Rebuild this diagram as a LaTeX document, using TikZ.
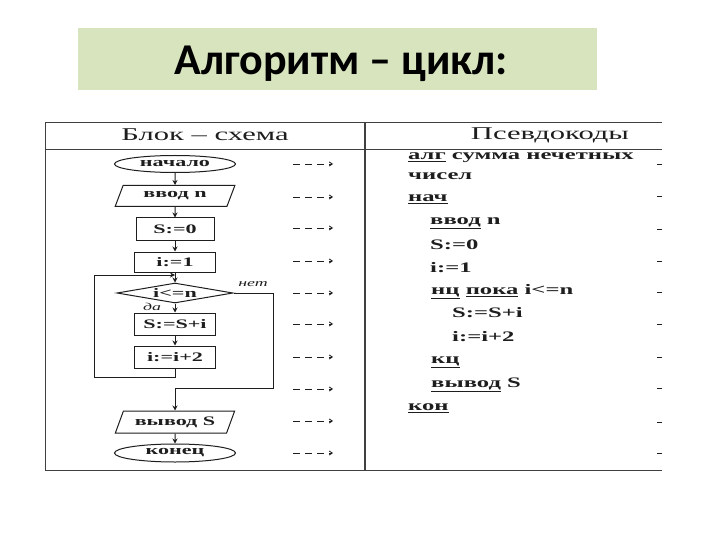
\documentclass[tikz,border=0pt]{standalone}
\usepackage{fontspec}
\usetikzlibrary{shapes.geometric,arrows.meta,calc}
\newfontfamily\titlefont{Carlito}
\newfontfamily\wser[FakeStretch=1.7]{Liberation Serif}
\definecolor{titlebg}{HTML}{D7E4BD}
\definecolor{ink}{HTML}{1E1E1E}
\begin{document}
\begin{tikzpicture}[x=1pt,y=-1pt,
  fc/.style={font=\wser\bfseries\fontsize{13}{15}\selectfont, text=ink, inner sep=0pt},
  box/.style={fc, draw=ink, line width=1pt, minimum width=81pt, minimum height=21pt},
  oval/.style={fc, ellipse, draw=ink, line width=1pt, minimum width=121pt, minimum height=17pt},
  io/.style={fc, trapezium, trapezium left angle=60, trapezium right angle=120, trapezium stretches=true, draw=ink, line width=1pt, minimum width=120pt, minimum height=21pt},
  cnd/.style={fc, diamond, draw=ink, line width=1pt, minimum width=116pt, minimum height=20pt, aspect=5.8},
  arr/.style={draw=ink, line width=1pt, -{Stealth[length=5pt,width=5pt]}},
  lin/.style={draw=ink, line width=1pt},
  darr/.style={draw=ink, line width=0.9pt, dash pattern=on 7pt off 5pt, -{Straight Barb[length=3pt,width=4pt]}},
  lbl/.style={font=\wser\itshape\fontsize{10.5}{12}\selectfont, text=ink, inner sep=0pt},
  hdr/.style={font=\wser\fontsize{18}{21}\selectfont, text=ink, inner sep=0pt},
  code/.style={font=\wser\bfseries\fontsize{14.5}{17}\selectfont, text=ink, inner sep=0pt, anchor=west},
  tbl/.style={draw=ink!85, line width=1pt}
]
\useasboundingbox (0,0) rectangle (720,540);
\fill[white] (0,0) rectangle (720,540);

% title
\node[fill=titlebg, minimum width=519pt, minimum height=62pt, inner sep=0pt] (tbox) at (337.5,59) {};
\node[anchor=base, inner sep=0pt, font=\titlefont\bfseries\fontsize{44}{50}\selectfont] (title) at (341,75) {Алгоритм – цикл:};

% table
\draw[tbl] (45,123) -- (662,123);
\draw[tbl] (45,150) -- (662,150);
\draw[tbl] (45,470) -- (662,470);
\draw[tbl] (45,123) -- (45,470);
\draw[tbl, line width=1.6pt] (365,123) -- (365,470);

\node[hdr] (h1) at (205,135) {Блок – схема};
\node[hdr] (h2) at (550,135) {Псевдокоды};

% flowchart
\node[oval] (start) at (175,164) {начало};
\node[io] (in) at (175,196) {ввод n};
\node[box, minimum width=78pt, minimum height=22pt] (s0) at (175,229) {S:=0};
\node[box, minimum height=20pt] (i1) at (175,262) {i:=1};
\node[cnd] (cond) at (175,293) {i<=n};
\node[box, minimum height=22pt] (s1) at (175,324) {S:=S+i};
\node[box, minimum height=22pt] (i2) at (175,357) {i:=i+2};
\node[io, minimum height=22pt] (out) at (175,422) {вывод S};
\node[oval, minimum height=18pt] (end) at (175,453) {конец};

\node[lbl] (no) at (253,284) {нет};
\node[lbl] (yes) at (152,307) {да};

\coordinate (j) at (175,275);
\coordinate (lb) at (94,377);
\coordinate (lt) at (94,275);
\coordinate (er) at (273,388);

\draw[arr] (start.south) -- (in.north);
\draw[arr] (in.south) -- (s0.north);
\draw[arr] (s0.south) -- (i1.north);
\draw[arr] (i1.south) -- (cond.north);
\draw[arr] (cond.south) -- (s1.north);
\draw[arr] (s1.south) -- (i2.north);
\draw[arr] (i2.south) -- (i2.south |- lb) -- (lb) -- (lt) -- (j);
\draw[arr] (cond.east) -- (cond.east -| er) -- (er) -- (er -| out.north) -- (out.north);
\draw[arr] (out.south) -- (end.north);

% dashed arrows
\foreach \yy [count=\k] in {164,197,228,261,293,324,357,389,421,453} {
  \coordinate (da\k) at (293,\yy);
  \coordinate (db\k) at (333,\yy);
  \draw[darr] (da\k) -- (db\k);
}
% right edge marks
\foreach \yy [count=\k] in {165,197,230,261,292,324,357,388,422,453} {
  \coordinate (ra\k) at (657,\yy);
  \coordinate (rb\k) at (662,\yy);
  \draw[lin] (ra\k) -- (rb\k);
}

% pseudocode
\node[code] (p1) at (408,158) {\underline{алг} сумма нечетных};
\node[code] (p1b) at (408,176) {чисел};
\node[code] (p2) at (408,199) {\underline{нач}};
\node[code] (p3) at (430,223) {\underline{ввод} n};
\node[code] (p4) at (430,245) {S:=0};
\node[code] (p5) at (430,268) {i:=1};
\node[code] (p6) at (431,292) {\underline{нц} \underline{пока} i<=n};
\node[code] (p7) at (452,313) {S:=S+i};
\node[code] (p8) at (452,337) {i:=i+2};
\node[code] (p9) at (431,362) {\underline{кц}};
\node[code] (p10) at (431,385) {\underline{вывод} S};
\node[code] (p11) at (408,408) {\underline{кон}};
\end{tikzpicture}
\end{document}
